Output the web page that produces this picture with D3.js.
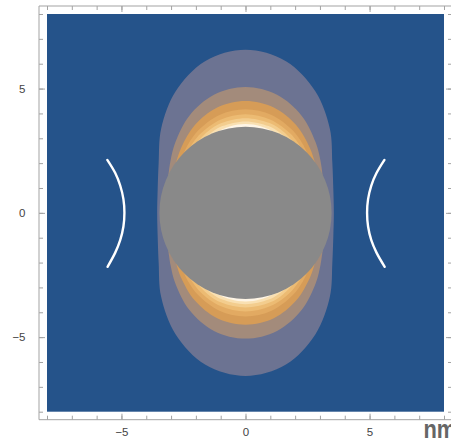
<!DOCTYPE html>
<html>
<head>
<meta charset="utf-8">
<script src="https://cdn.jsdelivr.net/npm/d3@7"></script>
<style>
	body { margin: 0; background: #fff; }
</style>
</head>
<body>
<div id="chart"></div>
<script>

// tick positions (nm)
var minorTicks = [-8, -7, -6, -5, -4, -3, -2, -1, 0, 1, 2, 3, 4, 5, 6, 7, 8];
var majorTicks = [-5, 0, 5];
var tickLabels = ["\u22125", "0", "5"];

// radius of the particle (nm)
var particleRadius = 3.47;

// contour outlines, one quadrant each, from the top down to where they meet the particle
var levelLavender = [[0, 6.56], [1.63, 6.10], [2.82, 4.88], [3.40, 3.38], [3.50, 2.01], [3.54, 0.93], [3.56, 0]];
var levelTan      = [[0, 5.06], [1.27, 4.75], [2.26, 3.91], [2.83, 2.83], [3.02, 2.11], [3.11, 1.50]];
var levelOrange1  = [[0, 4.50], [1.14, 4.24], [2.04, 3.53], [2.60, 2.60], [2.80, 2.01]];
var levelOrange2  = [[0, 4.17], [1.05, 3.94], [1.91, 3.31], [2.31, 2.76], [2.50, 2.38]];
var levelOrange3  = [[0, 3.97], [1.01, 3.75], [1.83, 3.17], [2.24, 2.63]];
var levelOrange4  = [[0, 3.81], [0.97, 3.61], [1.52, 3.27], [1.94, 2.85]];
var levelLight    = [[0, 3.68], [0.93, 3.49], [1.32, 3.27], [1.61, 3.05]];
var levelWhite    = [[0, 3.57], [0.61, 3.48], [1.19, 3.24]];

var lobeLevels = [levelTan, levelOrange1, levelOrange2, levelOrange3, levelOrange4, levelLight, levelWhite];
var lobeColors = ["#a38b7b", "#d69c57", "#e2aa62", "#ecbb73", "#f3cd8e", "#f9e0b2", "#fef5e6"];

// the two white curves at the sides
var arcLeft  = [[-5.57, 2.13], [-5.25, 1.60], [-5.05, 1.10], [-4.92, 0.55], [-4.88, 0], [-4.92, -0.55], [-5.05, -1.10], [-5.25, -1.60], [-5.56, -2.17]];
var arcRight = [[5.60, 2.13], [5.28, 1.60], [5.07, 1.10], [4.94, 0.55], [4.90, 0], [4.94, -0.55], [5.07, -1.10], [5.28, -1.60], [5.61, -2.17]];

var width = 451, height = 439;

var svg = d3.select("#chart").append("svg")
	.attr("width", width)
	.attr("height", height);

// scales
var x = d3.scaleLinear().domain([-8, 8]).range([47, 444]);
var y = d3.scaleLinear().domain([-8, 8]).range([411.7, 14]);

// frame sits 8px outside the plotted area
var pad = 8;
var fLeft = 47 - pad, fRight = 444 + pad, fTop = 14 - pad, fBottom = 411.7 + pad;

// background
svg.append("rect")
	.attr("x", x(-8))
	.attr("y", y(8))
	.attr("width", x(8) - x(-8))
	.attr("height", y(-8) - y(8))
	.attr("fill", "#25538a");

var line = d3.line()
	.x(function (d) { return x(d[0]); })
	.y(function (d) { return y(d[1]); });

/**
 * upper lobe from a quadrant: right end, over the top, to the left end
 */
function lobe(q, sign)
{
	var right = q.slice().reverse();
	var left = q.slice(1).map(function (p) { return [-p[0], p[1]]; });
	return right.concat(left).map(function (p) { return [p[0], p[1] * sign]; });
}

// outermost level goes all round the particle
var ring = [];
levelLavender.forEach(function (p) { ring.push([p[0], p[1]]); });
levelLavender.slice().reverse().slice(1).forEach(function (p) { ring.push([p[0], -p[1]]); });
levelLavender.slice(1).forEach(function (p) { ring.push([-p[0], -p[1]]); });
levelLavender.slice().reverse().slice(1, -1).forEach(function (p) { ring.push([-p[0], p[1]]); });

svg.append("path")
	.attr("d", line.curve(d3.curveCatmullRomClosed)(ring))
	.attr("fill", "#6c7392");

// the lobes, top and bottom
line.curve(d3.curveCatmullRom);
lobeLevels.forEach(function (q, i) {
	[1, -1].forEach(function (s) {
		svg.append("path")
			.attr("d", line(lobe(q, s)) + "Z")
			.attr("fill", lobeColors[i]);
	});
});

// the particle
svg.append("circle")
	.attr("cx", x(0))
	.attr("cy", y(0))
	.attr("r", x(particleRadius) - x(0))
	.attr("fill", "#898989");

// white curves
[arcLeft, arcRight].forEach(function (a) {
	svg.append("path")
		.attr("d", line(a))
		.attr("fill", "none")
		.attr("stroke", "#fff")
		.attr("stroke-width", 2.4)
		.attr("stroke-linecap", "round");
});

// frame lines
var frameColor = "#a3a3a3";
var frame = svg.append("g").attr("stroke", frameColor).attr("stroke-width", 1);
frame.append("line").attr("x1", fLeft).attr("x2", fRight).attr("y1", fBottom).attr("y2", fBottom);
frame.append("line").attr("x1", fLeft).attr("x2", fRight).attr("y1", fTop).attr("y2", fTop);
frame.append("line").attr("x1", fLeft).attr("x2", fLeft).attr("y1", fTop).attr("y2", fBottom);
frame.append("line").attr("x1", fRight).attr("x2", fRight).attr("y1", fTop).attr("y2", fBottom);

/**
 * draws one set of inward ticks
 */
function ticks(axis, tx, ty, vals, len, labels, padding)
{
	var a = axis.tickValues(vals).tickSize(-len).tickPadding(padding);
	a.tickFormat(labels ? function (d, i) { return labels[i]; } : function () { return ""; });
	var g = svg.append("g")
		.attr("transform", "translate(" + tx + "," + ty + ")")
		.call(a);
	g.select(".domain").remove();
	g.selectAll("line").attr("stroke", frameColor);
	g.selectAll("text")
		.attr("fill", "#444")
		.style("font-family", "'Liberation Sans', Arial, sans-serif")
		.style("font-size", "11.5px");
	return g;
}

ticks(d3.axisBottom(x), 0, fBottom, minorTicks, 4, null, 8);
ticks(d3.axisBottom(x), 0, fBottom, majorTicks, 6, tickLabels, 8);
ticks(d3.axisTop(x), 0, fTop, minorTicks, 4, null, 3);
ticks(d3.axisTop(x), 0, fTop, majorTicks, 6, null, 3);
ticks(d3.axisLeft(y), fLeft, 0, minorTicks, 4, null, 13.5);
ticks(d3.axisLeft(y), fLeft, 0, majorTicks, 6, tickLabels, 13.5);
ticks(d3.axisRight(y), fRight, 0, minorTicks, 4, null, 3);
ticks(d3.axisRight(y), fRight, 0, majorTicks, 6, null, 3);

// unit label, narrow bold, running to the edge as in the original
svg.append("text")
	.attr("transform", "translate(423.5,438) scale(0.84,1)")
	.attr("fill", "#666")
	.style("font-family", "'Liberation Sans', Arial, sans-serif")
	.style("font-weight", "bold")
	.style("font-size", "26px")
	.text("nm");

</script>
</body>
</html>
